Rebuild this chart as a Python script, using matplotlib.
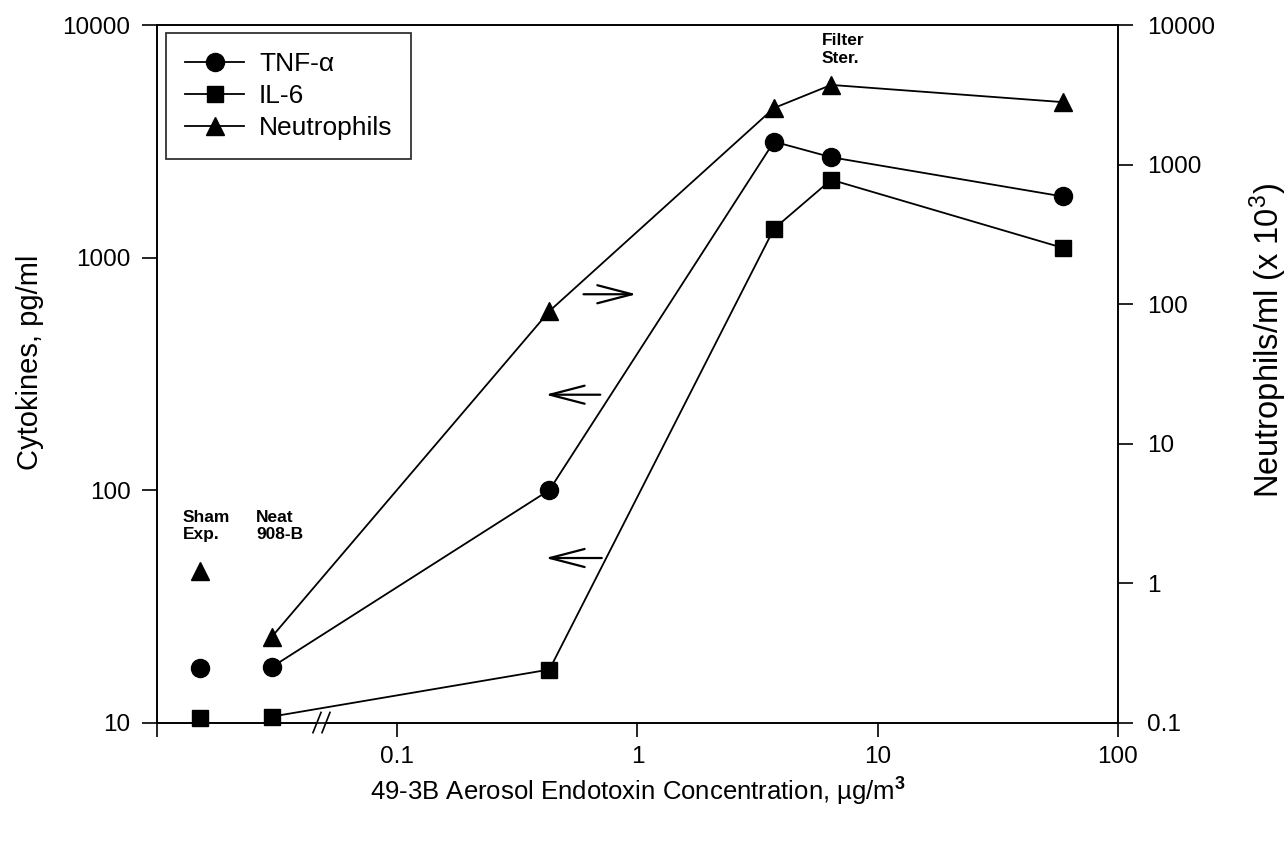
import matplotlib
matplotlib.use("Agg")
import matplotlib.pyplot as plt
from matplotlib.ticker import NullLocator, FixedLocator, FixedFormatter

plt.rcParams['font.family'] = ['Liberation Sans', 'DejaVu Sans']
plt.rcParams['mathtext.fontset'] = 'custom'
plt.rcParams['mathtext.rm'] = 'Liberation Sans'
plt.rcParams['mathtext.it'] = 'Liberation Sans:italic'
plt.rcParams['mathtext.bf'] = 'Liberation Sans:bold'

# ---- data ----
sham_x = [0.0151]
sham_tnf = [17.1]
sham_il6 = [10.5]
sham_neut = [1.21]

conc = [0.030, 0.43, 3.7, 6.4, 59.0]
tnf = [17.3, 100.0, 3150.0, 2700.0, 1830.0]
il6 = [10.6, 16.9, 1330.0, 2160.0, 1100.0]
neut = [0.41, 89.0, 2540.0, 3720.0, 2800.0]

x_ticks = [0.01, 0.1, 1, 10, 100]
x_ticklabels = ['', '0.1', '1', '10', '100']
yl_ticks = [10, 100, 1000, 10000]
yl_ticklabels = ['10', '100', '1000', '10000']
yr_ticks = [0.1, 1, 10, 100, 1000, 10000]
yr_ticklabels = ['0.1', '1', '10', '100', '1000', '10000']

fig = plt.figure(figsize=(12.88, 8.42), dpi=100)
ax = fig.add_axes([0.1219, 0.1419, 0.7461, 0.8284])
ax2 = ax.twinx()

ax.set_xscale('log')
ax.set_yscale('log')
ax2.set_yscale('log')
ax.set_xlim(0.01, 100)
ax.set_ylim(10, 10000)
ax2.set_ylim(0.1, 10000)

lw = 1.3
ms_c, ms_s, ms_t = 13, 12, 13
l1, = ax.plot(conc, tnf, '-o', color='black', lw=lw, ms=ms_c, clip_on=False, zorder=5)
l2, = ax.plot(conc, il6, '-s', color='black', lw=lw, ms=ms_s, clip_on=False, zorder=5)
l3, = ax2.plot(conc, neut, '-^', color='black', lw=lw, ms=ms_t, clip_on=False, zorder=5)
ax.plot(sham_x, sham_tnf, 'o', color='black', ms=ms_c, clip_on=False, zorder=5)
ax.plot(sham_x, sham_il6, 's', color='black', ms=ms_s, clip_on=False, zorder=5)
ax2.plot(sham_x, sham_neut, '^', color='black', ms=ms_t, clip_on=False, zorder=5)

for a in (ax, ax2):
    for s in a.spines.values():
        s.set_linewidth(1.2)
        s.set_color('black')

ax.xaxis.set_major_locator(FixedLocator(x_ticks))
ax.xaxis.set_major_formatter(FixedFormatter(x_ticklabels))
ax.xaxis.set_minor_locator(NullLocator())
ax.yaxis.set_major_locator(FixedLocator(yl_ticks))
ax.yaxis.set_major_formatter(FixedFormatter(yl_ticklabels))
ax.yaxis.set_minor_locator(NullLocator())
ax2.yaxis.set_major_locator(FixedLocator(yr_ticks))
ax2.yaxis.set_major_formatter(FixedFormatter(yr_ticklabels))
ax2.yaxis.set_minor_locator(NullLocator())

ax.tick_params(axis='x', direction='out', length=10, width=1.2, labelsize=17.5, pad=7)
ax.tick_params(axis='y', direction='out', length=11, width=1.2, labelsize=17.5, pad=8)
ax2.tick_params(axis='y', direction='out', length=11, width=1.2, labelsize=17.5, pad=10)

ax.set_xlabel('49-3B Aerosol Endotoxin Concentration, \u00b5g/m$^{\\mathbf{3}}$', fontsize=18.5, va='center')
ax.xaxis.set_label_coords(0.5005, -0.099)
ax.set_ylabel('Cytokines, pg/ml', fontsize=21, va='center')
ax.yaxis.set_label_coords(-0.132, 0.517)
ax2.set_ylabel('Neutrophils/ml (x 10$^{3}$)', fontsize=23.5, va='center', rotation=90)
ax2.yaxis.set_label_coords(1.156, 0.547)

leg = ax.legend([l1, l2, l3], ['TNF-\u03b1', 'IL-6', 'Neutrophils'],
                loc='upper left', bbox_to_anchor=(0.0094, 0.9885), borderaxespad=0,
                fontsize=19, frameon=True, fancybox=False, handlelength=2.25,
                handletextpad=0.55, borderpad=0.72, labelspacing=0.3)
leg.get_frame().set_edgecolor('black')
leg.get_frame().set_linewidth(1.3)
leg.set_zorder(10)

# annotations
ax.text(0.027, 0.305, 'Sham\nExp.', transform=ax.transAxes, fontsize=12.5,
        fontweight='bold', va='top', ha='left', linespacing=1.2)
ax.text(0.103, 0.305, 'Neat\n908-B', transform=ax.transAxes, fontsize=12.5,
        fontweight='bold', va='top', ha='left', linespacing=1.2)
ax.text(0.692, 0.988, 'Filter\nSter.', transform=ax.transAxes, fontsize=12.5,
        fontweight='bold', va='top', ha='left', linespacing=1.2)

astyle = '->,head_length=2.5,head_width=0.65'
ax.annotate('', xy=(0.99, 695), xytext=(0.596, 695),
            arrowprops=dict(arrowstyle=astyle, lw=1.6, color='black',
                            mutation_scale=10, shrinkA=0, shrinkB=0))
ax.annotate('', xy=(0.414, 257), xytext=(0.70, 257),
            arrowprops=dict(arrowstyle=astyle, lw=1.6, color='black',
                            mutation_scale=10, shrinkA=0, shrinkB=0))
ax.annotate('', xy=(0.414, 51), xytext=(0.71, 51),
            arrowprops=dict(arrowstyle=astyle, lw=1.6, color='black',
                            mutation_scale=10, shrinkA=0, shrinkB=0))

# axis break on x-axis
ax.plot([0.1665, 0.1760], [0, 0], transform=ax.transAxes, color='white',
        lw=3, clip_on=False, zorder=6, solid_capstyle='butt')
ax.plot([0.1623, 0.1707], [-0.0145, 0.0145], transform=ax.transAxes,
        color='black', lw=1.2, clip_on=False, zorder=7)
ax.plot([0.1717, 0.1800], [-0.0145, 0.0145], transform=ax.transAxes,
        color='black', lw=1.2, clip_on=False, zorder=7)

fig.savefig('out.png', dpi=100)
